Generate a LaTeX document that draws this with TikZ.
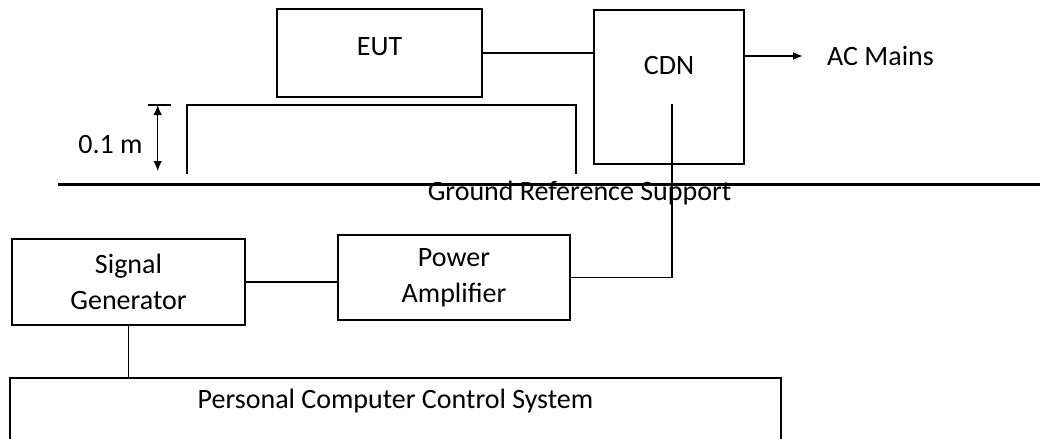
\documentclass[tikz,border=0pt]{standalone}
\usepackage{fontspec}
\setmainfont{Carlito}
\usetikzlibrary{arrows.meta}

\begin{document}
\begin{tikzpicture}[
    x=0.75pt, y=-0.75pt,
    font=\fontsize{21}{27}\selectfont,
    block/.style={rectangle, draw, line width=1pt, align=center, inner sep=0pt},
    line/.style={draw, line width=1.4pt},
    wire/.style={draw, line width=1pt},
    ground/.style={draw, line width=2pt},
    arrow/.style={draw, line width=1pt, {Latex[length=7.5pt,width=6.5pt]}-{Latex[length=7.5pt,width=6.5pt]}}
]
    \useasboundingbox (0,0) rectangle (1040,439);
    \clip (0,0) rectangle (1040,439);

    \node [block, minimum width=153.75pt, minimum height=66pt, label={[yshift=4.5pt]center:EUT}] (eut) at (379.5,53) {};
    \node [block, minimum width=112.5pt, minimum height=115.5pt, label={[yshift=15.75pt]center:CDN}] (cdn) at (669,87) {};
    \node [anchor=center] (mains) at (880.5,56) {AC Mains};
    \node [block, minimum width=174.75pt, minimum height=64.5pt] (siggen) at (128.5,282) {Signal\\Generator};
    \node [block, minimum width=174pt, minimum height=63.75pt] (amp) at (454,277.5) {Power\\Amplifier};
    \node [block, minimum width=578.25pt, minimum height=69pt, label={[yshift=17pt]center:Personal Computer Control System}] (pc) at (395.5,424) {};
    \node (grs) at (579.5,193) {Ground Reference Support};
    \node (height) at (110.5,145) {0.1 m};

    \coordinate (gndL) at (58,184.5);
    \coordinate (gndR) at (1040,184.5);
    \coordinate (tabL) at (187,174);
    \coordinate (tabR) at (576,174);
    \coordinate (tabT) at (576,105);
    \coordinate (dimT) at (157.7,105);
    \coordinate (dimB) at (157.7,171);
    \coordinate (cdntap) at (672,104);

    \path [ground] (gndL) -- (gndR);
    \path [wire] (tabL) |- (tabT) -- (tabR);
    \path [wire] ([xshift=-7.5pt]dimT) -- ([xshift=9.75pt]dimT);
    \path [arrow] (dimT) -- (dimB);

    \path [line] (eut.east) -- (eut.east -| cdn.west);
    \path [line, -{Latex[length=7.5pt,width=6pt]}] (cdn.east |- mains) -- ([xshift=-14.5pt]mains.west);
    \path [wire] (cdntap) |- (amp.east);
    \path [line] (siggen.east) -- (siggen.east -| amp.west);
    \path [line] (siggen.south) -- (siggen.south |- pc.north);
\end{tikzpicture}
\end{document}
